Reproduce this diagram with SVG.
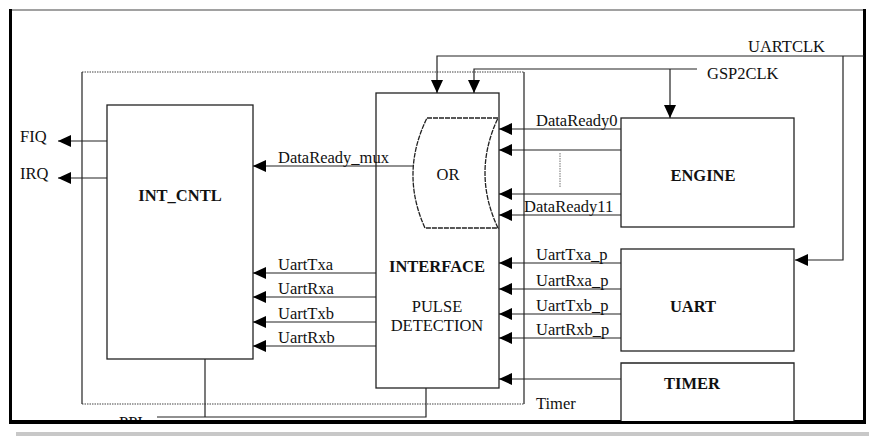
<svg xmlns="http://www.w3.org/2000/svg" width="869" height="436" viewBox="0 0 869 436">
<style>
text{font-family:"Liberation Serif","Times New Roman",serif;font-size:16.5px;fill:#111}
.b{font-weight:bold}
.c{text-anchor:middle}
.box{fill:#fff;stroke:#222;stroke-width:1.3}
.ln{fill:none;stroke:#222;stroke-width:1.2}
.arr{fill:none;stroke:#222;stroke-width:1.2;marker-end:url(#ah)}
.dot{fill:none;stroke:#444;stroke-width:1.2;stroke-dasharray:1.5 1}
</style>
<defs>
<marker id="ah" markerWidth="13" markerHeight="12" refX="13" refY="6" orient="auto" markerUnits="userSpaceOnUse"><path d="M0,0 L13,6 L0,12 z" fill="#000"/></marker>
<clipPath id="cp"><rect x="0" y="0" width="869" height="420"/></clipPath>
</defs>
<rect x="0" y="0" width="869" height="436" fill="#fff"/>
<rect x="16" y="432" width="853" height="4" fill="#c8c8c8"/>
<g id="frame">
<line x1="10" y1="10" x2="865" y2="10" stroke="#444" stroke-width="1.2"/>
<line x1="10.5" y1="9" x2="10.5" y2="424" stroke="#000" stroke-width="3"/>
<line x1="864.5" y1="9" x2="864.5" y2="424" stroke="#000" stroke-width="3"/>
<line x1="9" y1="422" x2="866" y2="422" stroke="#000" stroke-width="4"/>
</g>
<g id="boundary">
<line class="dot" x1="82" y1="72" x2="524" y2="72"/>
<line class="dot" x1="82" y1="404" x2="524" y2="404"/>
<line class="ln" x1="82" y1="72" x2="82" y2="404" stroke="#444"/>
<line class="ln" x1="524" y1="72" x2="524" y2="404" stroke="#444"/>
</g>
<g id="int_cntl">
<rect class="box" x="107" y="105" width="146" height="254"/>
<text class="b c" x="180" y="201">INT_CNTL</text>
</g>
<g id="interface">
<rect class="box" x="376" y="93" width="123" height="295"/>
<text class="b c" x="437" y="272">INTERFACE</text>
<text class="c" x="437" y="312">PULSE</text>
<text class="c" x="437" y="331">DETECTION</text>
</g>
<g id="or">
<path d="M427,118 H498 Q472,173 498,228 H425 Q400,173 427,118 Z" fill="#fff" stroke="#222" stroke-width="1.3" stroke-dasharray="5 1"/>
<text class="c" x="448" y="180">OR</text>
</g>
<g id="engine">
<rect class="box" x="621" y="118" width="173" height="109"/>
<text class="b c" x="703" y="181">ENGINE</text>
</g>
<g id="uart">
<rect class="box" x="621" y="249" width="173" height="102"/>
<text class="b c" x="693" y="312">UART</text>
</g>
<g id="timer">
<path class="box" d="M621,421 V363 H794 V421"/>
<text class="b c" x="692" y="389">TIMER</text>
</g>
<g id="connectors">
<path class="arr" d="M107,141 H58"/>
<path class="arr" d="M107,178 H58"/>
<path class="arr" d="M413,166 H253"/>
<path class="arr" d="M376,273 H253"/>
<path class="arr" d="M376,297 H253"/>
<path class="arr" d="M376,322 H253"/>
<path class="arr" d="M376,346 H253"/>
<path class="arr" d="M864,56 H437 V93"/>
<path class="arr" d="M843,56 V260 H795"/>
<path class="arr" d="M697,69 H474 V93"/>
<path class="arr" d="M670,69 V118"/>
<path class="arr" d="M621,129 H499"/>
<path class="arr" d="M621,150 H499"/>
<path class="arr" d="M621,194 H499"/>
<path class="arr" d="M621,215 H499"/>
<path class="arr" d="M621,263 H499"/>
<path class="arr" d="M621,289 H499"/>
<path class="arr" d="M621,314 H499"/>
<path class="arr" d="M621,338 H499"/>
<path class="arr" d="M621,379 H499"/>
<path class="ln" d="M205,359 V417"/>
<path class="ln" d="M157,417 H426 V388"/>
<line x1="560" y1="153" x2="560" y2="188" stroke="#888" stroke-width="1.2" stroke-dasharray="1.5 1"/>
</g>
<g id="labels">
<text x="20" y="142">FIQ</text>
<text x="20" y="179">IRQ</text>
<text x="278" y="163">DataReady_mux</text>
<text x="278" y="270">UartTxa</text>
<text x="278" y="294">UartRxa</text>
<text x="278" y="319">UartTxb</text>
<text x="278" y="343">UartRxb</text>
<text x="748" y="52">UARTCLK</text>
<text x="707" y="79">GSP2CLK</text>
<text x="536" y="126">DataReady0</text>
<text x="524" y="212">DataReady11</text>
<text x="536" y="260">UartTxa_p</text>
<text x="536" y="286">UartRxa_p</text>
<text x="536" y="311">UartTxb_p</text>
<text x="536" y="335">UartRxb_p</text>
<text x="536" y="409">Timer</text>
<text x="119" y="428" clip-path="url(#cp)">PPI</text>
</g>
</svg>
